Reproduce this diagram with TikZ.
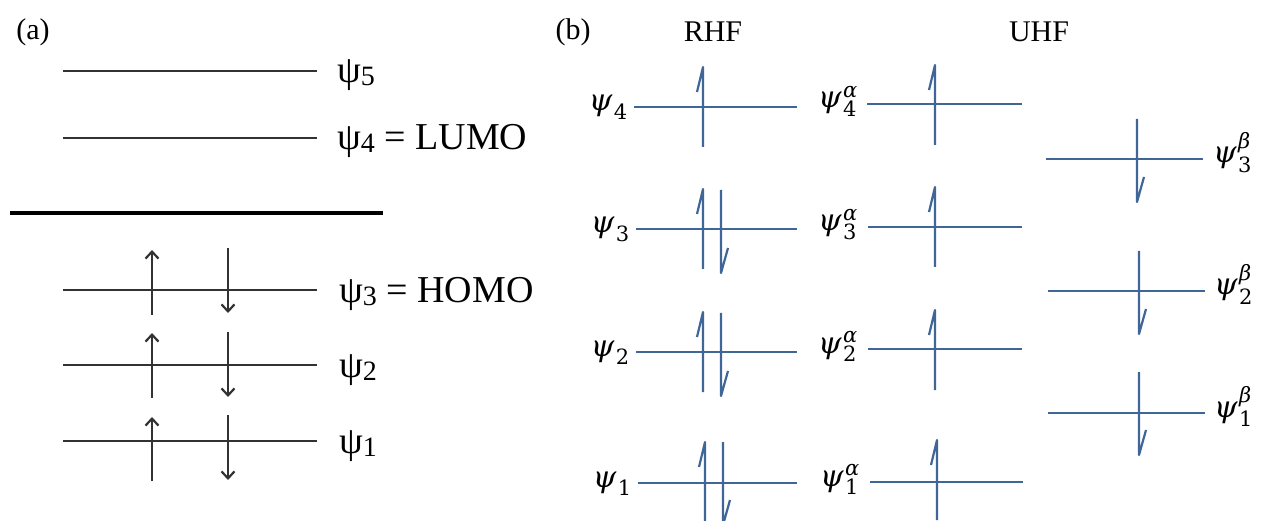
\RequirePackage{fix-cm}
\documentclass[tikz,border=0pt]{standalone}
\usepackage{amsmath}
\usepackage{fontspec}
\setmainfont{Liberation Serif}
\newfontfamily\orbfont{DejaVu Serif}
\usetikzlibrary{arrows.meta}
\definecolor{levelBlue}{RGB}{64,102,152}
\definecolor{levelGray}{RGB}{50,50,50}
\newcommand{\psisub}[1]{ψ\raisebox{-3pt}{\fontsize{28}{28}\selectfont #1}}
\newcommand{\orbsub}[2]{$\text{\orbfont\itshape ψ\kern1.5pt}%
  _{\text{\orbfont #1}}^{\text{\orbfont\itshape #2}}$}

\begin{document}
\begin{tikzpicture}[x=1pt, y=-1pt,
  lvl/.style={line width=2.5pt, draw=levelGray},
  gap/.style={line width=4pt, draw=black},
  pair/.style={line width=2.2pt, draw=levelGray,
               -{Straight Barb[length=7pt,width=13pt]}},
  orb/.style={line width=2.2pt, draw=levelBlue, line join=round},
  mo/.style={font=\fontsize{38}{40}\selectfont, inner sep=0pt,
             anchor=base west},
  tag/.style={font=\fontsize{30}{34}\selectfont, inner sep=0pt},
  mlab/.style={font=\fontsize{30}{34}\selectfont, inner sep=0pt},
  spinup/.pic={\draw[orb] (0,40) -- (0,-40) -- (-6,-15);},
  spindn/.pic={\draw[orb] (0,-41) -- (0,42) -- (7,17);}
]
  \useasboundingbox (0,0) rectangle (1261,521);

  % (a) Hueckel levels
  \node[tag] (lblA) at (33,32) {(a)};
  \draw[lvl] (63,71) -- (317,71);
  \node[mo] (p5) at (337,83) {\psisub{5}};
  \draw[lvl] (63,138) -- (317,138);
  \node[mo] (p4) at (337,150) {\psisub{4} = LUMO};
  \draw[gap] (10,213) -- (383,213);
  \draw[lvl] (63,290) -- (317,290);
  \node[mo] (p3) at (339,302) {\psisub{3} = HOMO};
  \draw[lvl] (63,365) -- (317,365);
  \node[mo] (p2) at (339,377) {\psisub{2}};
  \draw[lvl] (63,441) -- (317,441);
  \node[mo] (p1) at (339,453) {\psisub{1}};

  \draw[pair] (152,315) -- (152,250);
  \draw[pair] (228,248) -- (228,313);
  \draw[pair] (152,398) -- (152,333);
  \draw[pair] (228,332) -- (228,397);
  \draw[pair] (152,481) -- (152,417);
  \draw[pair] (228,415) -- (228,480);

  % (b) RHF
  \node[tag] (lblB) at (573,32) {(b)};
  \node[tag] (rhf) at (713,32) {RHF};
  \node[tag] (uhf) at (1039,32) {UHF};

  \draw[orb] (634,107) -- (797,107);
  \node[mlab, anchor=base east] (r4) at (628,111) {\orbsub{4}{}};
  \pic at (703,107) {spinup};
  \draw[orb] (636,229) -- (797,229);
  \node[mlab, anchor=base east] (r3) at (630,233) {\orbsub{3}{}};
  \pic at (703,229) {spinup};
  \pic at (721,231) {spindn};
  \draw[orb] (636,352) -- (797,352);
  \node[mlab, anchor=base east] (r2) at (630,356) {\orbsub{2}{}};
  \pic at (703,352) {spinup};
  \pic at (721,354) {spindn};
  \draw[orb] (638,483) -- (797,483);
  \node[mlab, anchor=base east] (r1) at (632,487) {\orbsub{1}{}};
  \pic at (705,482) {spinup};
  \pic at (723,483) {spindn};

  % (b) UHF alpha
  \draw[orb] (867,104) -- (1022,104);
  \node[mlab, anchor=base east] (ua4) at (858,108) {\orbsub{4}{α}};
  \pic at (935,105) {spinup};
  \draw[orb] (868,227) -- (1022,227);
  \node[mlab, anchor=base east] (ua3) at (858,231) {\orbsub{3}{α}};
  \pic at (935,227) {spinup};
  \draw[orb] (868,349) -- (1022,349);
  \node[mlab, anchor=base east] (ua2) at (858,353) {\orbsub{2}{α}};
  \pic at (935,350) {spinup};
  \draw[orb] (870,482) -- (1023,482);
  \node[mlab, anchor=base east] (ua1) at (860,486) {\orbsub{1}{α}};
  \pic at (937,480) {spinup};

  % (b) UHF beta
  \draw[orb] (1046,159) -- (1203,159);
  \node[mlab, anchor=base west] (ub3) at (1213,163) {\orbsub{3}{β}};
  \pic at (1137,160) {spindn};
  \draw[orb] (1048,291) -- (1205,291);
  \node[mlab, anchor=base west] (ub2) at (1214,295) {\orbsub{2}{β}};
  \pic at (1139,292) {spindn};
  \draw[orb] (1048,413) -- (1205,413);
  \node[mlab, anchor=base west] (ub1) at (1214,417) {\orbsub{1}{β}};
  \pic at (1139,413) {spindn};
\end{tikzpicture}
\end{document}
